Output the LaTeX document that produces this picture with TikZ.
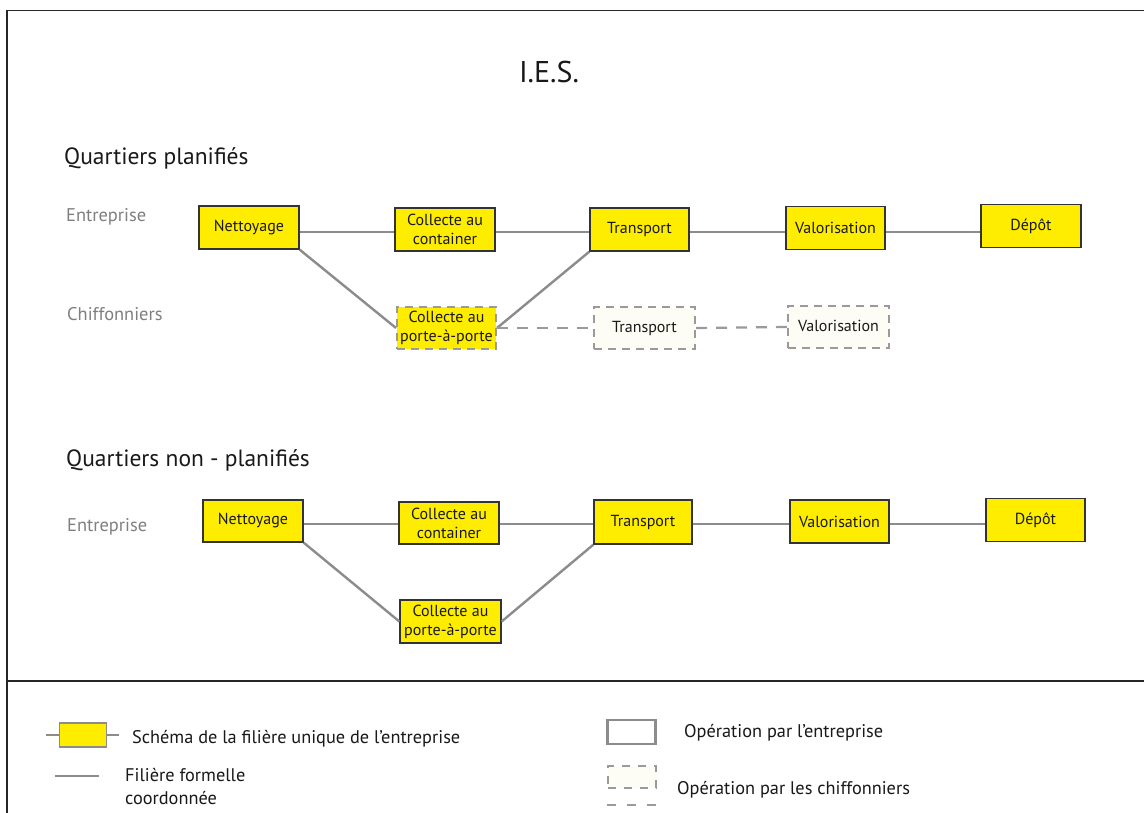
\documentclass[tikz,border=0pt]{standalone}
\usepackage{fontspec}
\setmainfont{PT Sans}
\definecolor{boxyellow}{HTML}{FFED00}
\definecolor{linegray}{HTML}{8C8C8C}
\definecolor{dashgray}{HTML}{9A9A9A}
\definecolor{labelgray}{HTML}{7F7F7F}
\definecolor{paleyel}{HTML}{FDFDF6}
\begin{document}
\begin{tikzpicture}[x=1pt,y=-1pt,
  op/.style={draw=black!80, line width=1.3pt, fill=boxyellow, align=center, inner sep=0pt,
    font=\fontsize{16}{19}\selectfont, text=black!90, minimum width=100pt, minimum height=43pt},
  chop/.style={draw=dashgray, line width=2pt, dash pattern=on 8pt off 6pt, align=center, inner sep=0pt,
    font=\fontsize{16}{19}\selectfont, text=black!90, minimum width=101pt, minimum height=42pt},
  flow/.style={draw=linegray, line width=2.4pt},
  dflow/.style={draw=dashgray, line width=2.2pt, dash pattern=on 11pt off 9pt},
  rowlabel/.style={anchor=west, inner sep=0pt, text=labelgray, font=\fontsize{18.4}{22}\selectfont},
  heading/.style={anchor=west, inner sep=0pt, text=black!90, font=\fontsize{23.5}{28}\selectfont},
  legtext/.style={anchor=base west, inner sep=0pt, text=black!90, font=\fontsize{18.3}{23}\selectfont, align=left},
  frame/.style={draw=black!85, line width=1.5pt}]
\useasboundingbox (0,0) rectangle (1144,813);
\fill[white] (0,0) rectangle (1144,813);
% frame
\coordinate (fTR) at (1144,10.5);
\coordinate (fTL) at (7,10.5);
\coordinate (fBL) at (7,813);
\coordinate (sL) at (7,681);
\coordinate (sR) at (1144,681);
\draw[frame] (fTR) -- (fTL) -- (fBL);
\draw[frame] (sL) -- (sR);

% title and headings
\node[inner sep=0pt, font=\fontsize{30}{34}\selectfont, text=black!90] (title) at (549,72) {I.E.S.};
\node[heading] (h1) at (64,158) {Quartiers planifiés};
\node[heading] (h2) at (66,460) {Quartiers non - planifiés};
\node[rowlabel] (e1) at (66,217) {Entreprise};
\node[rowlabel] (ch1) at (67,314) {Chiffonniers};
\node[rowlabel] (e2) at (67,527) {Entreprise};

% top section
\coordinate (rowA) at (0,232);
\node[op] (n1) at (249,227.5) {Nettoyage};
\node[op] (c1) at (445,229.5) {Collecte au\\container};
\node[op, minimum width=99pt] (t1) at (639.5,229.5) {Transport};
\node[op, minimum width=99pt] (v1) at (835.5,228) {Valorisation};
\node[op] (d1) at (1031,226) {Dépôt};
\node[chop, fill=boxyellow, minimum width=99pt] (p1) at (446.5,328) {Collecte au\\porte-à-porte};
\node[chop, fill=paleyel] (tt1) at (644.5,328) {\raisebox{-2pt}{Transport}};
\node[chop, fill=paleyel] (vv1) at (838.5,327) {\raisebox{3pt}{Valorisation}};

\draw[flow] (n1.east |- rowA) -- (c1.west |- rowA);
\draw[flow] (c1.east |- rowA) -- (t1.west |- rowA);
\draw[flow] (t1.east |- rowA) -- (v1.west |- rowA);
\draw[flow] (v1.east |- rowA) -- (d1.west |- rowA);
\draw[flow] (n1.south east) -- (p1.west);
\draw[flow] (p1.east) -- (t1.south west);
\draw[dflow] (p1.east) -- (tt1.west);
\draw[dflow] (tt1.east) -- (vv1.west);

% bottom section
\coordinate (rowB) at (0,524);
\node[op, minimum height=42pt] (n2) at (253,521) {Nettoyage};
\node[op, minimum height=42pt] (c2) at (449,523) {Collecte au\\container};
\node[op, minimum width=98pt, minimum height=44pt] (t2) at (643,522) {Transport};
\node[op, minimum width=99pt] (v2) at (839.5,521.5) {Valorisation};
\node[op, minimum width=99pt] (d2) at (1035.5,520) {Dépôt};
\node[op, minimum width=101pt] (p2) at (450.5,621.5) {Collecte au\\porte-à-porte};

\draw[flow] (n2.east |- rowB) -- (c2.west |- rowB);
\draw[flow] (c2.east |- rowB) -- (t2.west |- rowB);
\draw[flow] (t2.east |- rowB) -- (v2.west |- rowB);
\draw[flow] (v2.east |- rowB) -- (d2.west |- rowB);
\draw[flow] (n2.south east) -- (p2.west);
\draw[flow] (p2.east) -- (t2.south west);

% legend
\node[draw=linegray, line width=1.3pt, fill=boxyellow, minimum width=47pt, minimum height=24pt, inner sep=0pt] (lg1) at (83,735) {};
\coordinate (lgL) at (46,735);
\coordinate (lgR) at (119,735);
\draw[flow, line width=2pt] (lgL) -- (lg1.west);
\draw[flow, line width=2pt] (lg1.east) -- (lgR);
\node[legtext] (lt1) at (132,743) {Schéma de la filière unique de l’entreprise};

\coordinate (lf1) at (55,776);
\coordinate (lf2) at (99,776);
\draw[flow] (lf1) -- (lf2);
\node[legtext] (lt2) at (125,804) {Filière formelle\\coordonnée};

\node[draw=linegray, line width=2.2pt, minimum width=48pt, minimum height=24pt, inner sep=0pt] (le) at (631.5,732) {};
\node[legtext] (lt3) at (684,737) {Opération par l’entreprise};

\node[draw=dashgray, line width=2pt, dash pattern=on 8pt off 8pt, fill=paleyel, minimum width=48pt, minimum height=22pt, inner sep=0pt] (lc) at (631.5,777) {};
\coordinate (ld1) at (607,805);
\coordinate (ld2) at (656,805);
\draw[dashgray, line width=2pt, dash pattern=on 9pt off 11pt] (ld1) -- (ld2);
\node[legtext] (lt4) at (677,794) {Opération par les chiffonniers};
\end{tikzpicture}
\end{document}
